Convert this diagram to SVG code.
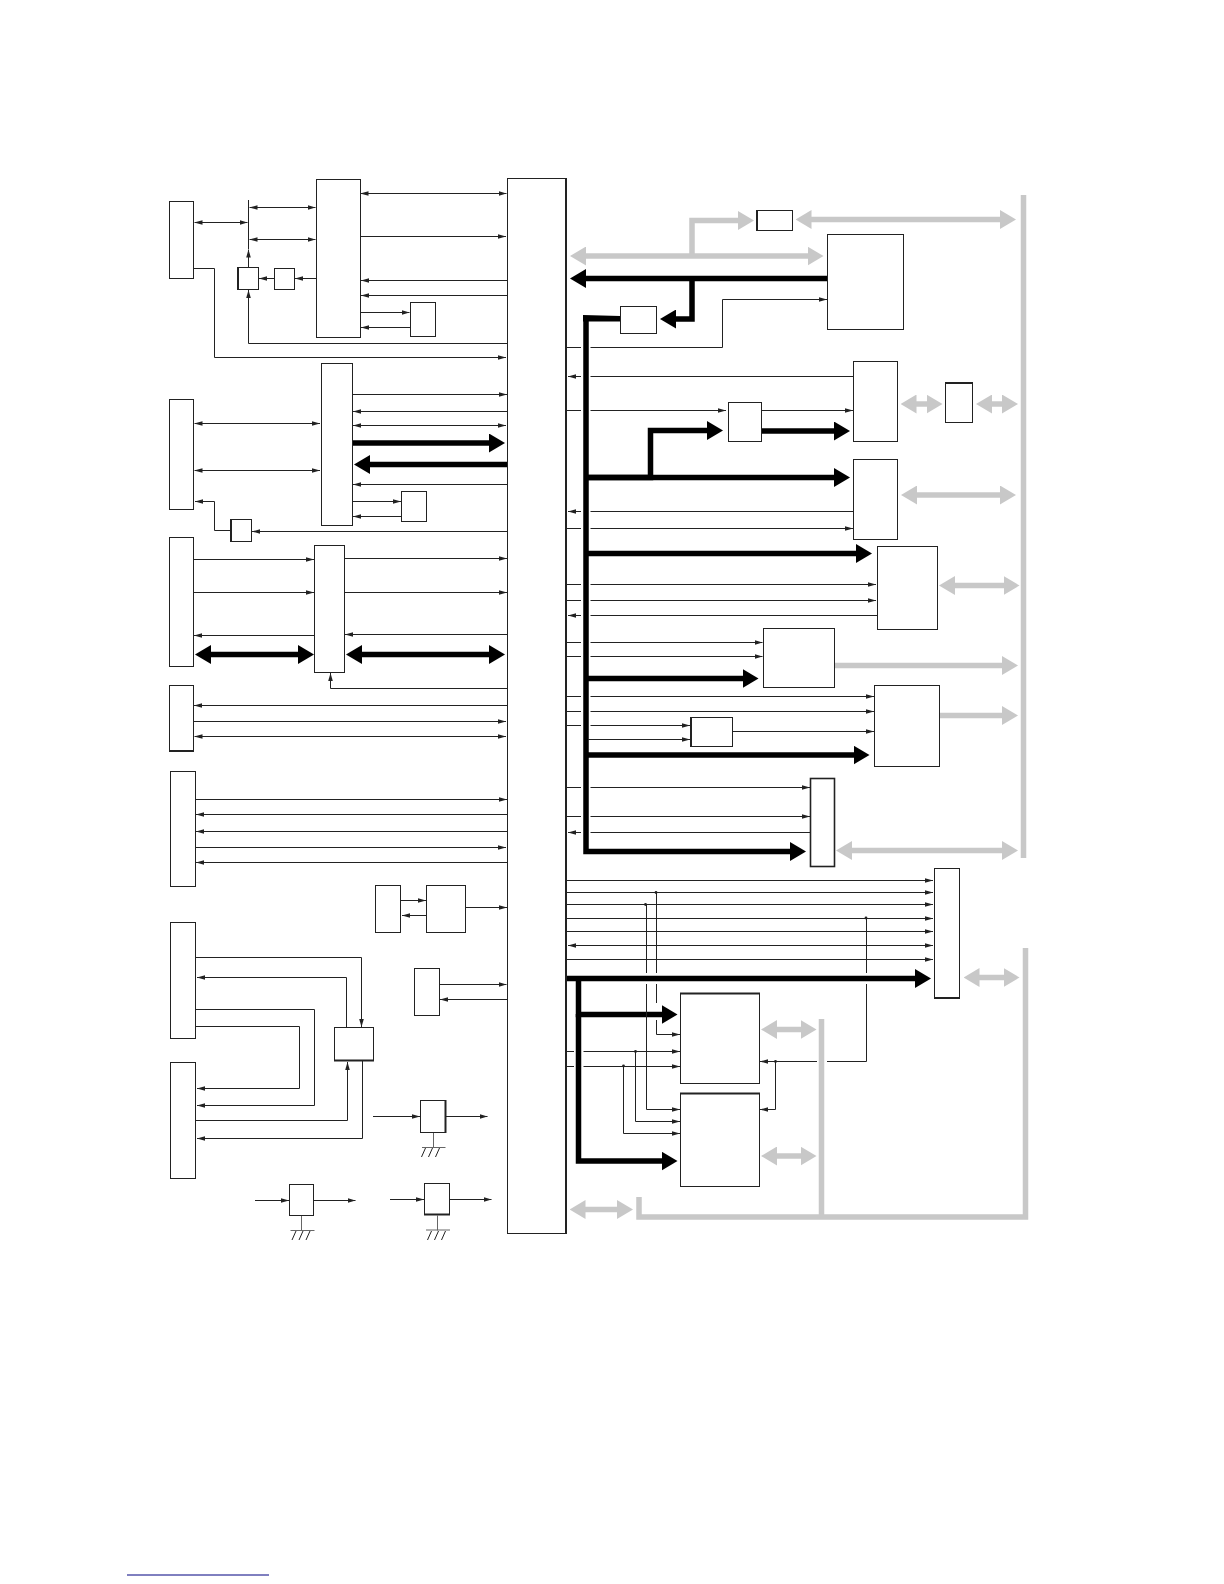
<svg xmlns="http://www.w3.org/2000/svg" width="1224" height="1584" viewBox="0 0 1224 1584">
<style>
.n{fill:#fff;stroke:#222;stroke-width:1}
.t{fill:none;stroke:#222;stroke-width:1}
.ta{fill:none;stroke:#222;stroke-width:1;marker-end:url(#a)}
.td{fill:none;stroke:#222;stroke-width:1;marker-start:url(#a);marker-end:url(#a)}
.b{fill:none;stroke:#000;stroke-width:5.5;marker-end:url(#k)}
.bd{fill:none;stroke:#000;stroke-width:5.5;marker-start:url(#k);marker-end:url(#k)}
.g{fill:none;stroke:#c8c8c8;stroke-width:5.5;marker-end:url(#h)}
.gd{fill:none;stroke:#c8c8c8;stroke-width:5.5;marker-start:url(#h);marker-end:url(#h)}
.gb{fill:none;stroke:#c8c8c8;stroke-width:5.5}
.e{fill:none;stroke:#222;stroke-width:2}
.gl{fill:none;stroke:#666;stroke-width:1}
.d{fill:#222}
</style>
<defs>
<marker id="a" markerUnits="userSpaceOnUse" markerWidth="8" markerHeight="6" refX="8" refY="3" orient="auto-start-reverse"><path d="M0,0.7L8,3L0,5.3Z" fill="#222"/></marker>
<marker id="k" markerUnits="userSpaceOnUse" markerWidth="16" markerHeight="19" refX="8" refY="9.5" orient="auto-start-reverse"><path d="M0,0L16,9.5L0,19Z" fill="#000"/></marker>
<marker id="h" markerUnits="userSpaceOnUse" markerWidth="16" markerHeight="19" refX="8" refY="9.5" orient="auto-start-reverse"><path d="M0,0L16,9.5L0,19Z" fill="#c8c8c8"/></marker>
</defs>
<g id="connectors">
<path class="td" d="M360.5,193.5H506.5"/>
<path class="td" d="M249.5,207.5H315.5"/>
<path class="td" d="M194.5,222.5H247.5"/>
<path class="td" d="M249.5,239.5H315.5"/>
<path class="ta" d="M360.5,236.5H506"/>
<path class="t" d="M248.5,200V249"/>
<path class="ta" d="M248.5,267V249.5"/>
<path class="ta" d="M507,280.5H361"/>
<path class="ta" d="M507,295.5H361"/>
<path class="ta" d="M360.5,312.5H409.5"/>
<path class="ta" d="M410.5,327.5H361"/>
<path class="ta" d="M316.5,278.5H295"/>
<path class="ta" d="M274.5,278.5H259"/>
<path class="ta" d="M507,343.5H248.5V290"/>
<path class="ta" d="M193.5,268.5H214.5V357.5H506"/>
<path class="ta" d="M352.5,394.5H507"/>
<path class="ta" d="M507,411.5H353"/>
<path class="td" d="M353,425.5H506"/>
<path class="td" d="M194.5,423.5H320"/>
<path class="td" d="M194.5,470.5H320"/>
<path class="ta" d="M507,484.5H353"/>
<path class="ta" d="M352.5,501.5H401"/>
<path class="ta" d="M401.5,516.5H353"/>
<path class="ta" d="M507,531.5H252"/>
<path class="ta" d="M230.5,530.5H214.5V501.5H195"/>
<path class="b" d="M352.5,443H497"/>
<path class="b" d="M507,464.5H362"/>
<path class="ta" d="M193.5,559.5H314"/>
<path class="ta" d="M193.5,592.5H314"/>
<path class="ta" d="M314.5,635.5H194"/>
<path class="bd" d="M203,654.5H306"/>
<path class="ta" d="M344.5,558.5H507"/>
<path class="ta" d="M344.5,592.5H507"/>
<path class="ta" d="M507,634.5H345"/>
<path class="bd" d="M354,654.5H497"/>
<path class="ta" d="M507,688.5H330.5V673"/>
<path class="ta" d="M507,705.5H194"/>
<path class="ta" d="M193.5,721.5H506"/>
<path class="td" d="M194.5,736.5H506"/>
<path class="ta" d="M195.5,799.5H507"/>
<path class="ta" d="M507,814.5H196"/>
<path class="ta" d="M507,831.5H196"/>
<path class="ta" d="M195.5,847.5H506"/>
<path class="ta" d="M507,862.5H196"/>
<path class="ta" d="M400.5,900.5H426"/>
<path class="ta" d="M426.5,915.5H402"/>
<path class="ta" d="M465.5,907.5H507"/>
<path class="ta" d="M439.5,984.5H506.5"/>
<path class="ta" d="M507,999.5H440"/>
<path class="ta" d="M195.5,957.5H361.5V1027"/>
<path class="ta" d="M346.5,1027V977.5H197"/>
<path class="ta" d="M195.5,1009.5H314.5V1105.5H197"/>
<path class="ta" d="M195.5,1026.5H299.5V1088.5H197"/>
<path class="ta" d="M195.5,1120.5H347.5V1062"/>
<path class="ta" d="M362.5,1061V1138.5H197"/>
<path class="ta" d="M373,1116.5H420"/>
<path class="ta" d="M446,1116.5H487.5"/>
<path class="ta" d="M255,1200.5H289"/>
<path class="ta" d="M313.5,1200.5H355.5"/>
<path class="ta" d="M390,1199.5H424"/>
<path class="ta" d="M449.5,1199.5H491.5"/>
<path class="gl" d="M433.5,1132.5V1147.5M301.5,1215.5V1230.5M437.5,1215.5V1230.5"/>
<path class="gl" d="M422,1147.5H445.5M290.5,1230.5H314.5M426,1230H450"/>
<path class="t" d="M425.5,1148L421.5,1157M432.5,1148L428.5,1157M439.5,1148L435.5,1157M296,1231L292,1240M303,1231L299,1240M310,1231L306,1240M431.5,1231L427.5,1240M438.5,1231L434.5,1240M445.5,1231L441.5,1240"/>
<path class="gd" d="M803.5,219.5H1008"/>
<path class="gd" d="M578,256H815.5"/>
<path class="g" d="M692,256V220.5H746"/>
<path class="gb" d="M1023.5,195V858"/>
<path class="b" d="M827.5,278.5H578"/>
<path class="b" d="M692,278.5V319H668"/>
<path class="b" d="M586,318V851.5H798"/>
<path d="M583,315L620.5,316V321.5L583,321.5Z" fill="#000"/>
<path class="t" d="M567,347.5H581M590.5,347.5H722.5V299.5"/>
<path class="ta" d="M722.5,299.5H827"/>
<path class="t" d="M853.5,376.5H590.5"/>
<path class="ta" d="M581,376.5H568"/>
<path class="t" d="M567,410.5H581"/>
<path class="ta" d="M590.5,410.5H726"/>
<path class="ta" d="M761.5,410.5H853"/>
<path class="b" d="M761.5,431H842"/>
<path class="b" d="M586,477.5H650.5V430.5H715"/>
<path class="b" d="M586,477.5H842"/>
<path class="gd" d="M908.5,404H934.5"/>
<path class="gd" d="M984,404H1010"/>
<path class="gd" d="M909,495H1008"/>
<path class="t" d="M853.5,511.5H590.5"/>
<path class="ta" d="M581,511.5H568"/>
<path class="t" d="M567,528.5H581"/>
<path class="ta" d="M590.5,528.5H853"/>
<path class="b" d="M586,553.5H864"/>
<path class="t" d="M567,584.5H581M567,600.5H581M567,642.5H581M567,656.5H581M567,696.5H581M567,711.5H581M567,725.5H581M567,787.5H581M567,816.5H581"/>
<path class="ta" d="M590.5,584.5H876"/>
<path class="ta" d="M590.5,600.5H876"/>
<path class="t" d="M877,615.5H590.5"/>
<path class="ta" d="M581,615.5H568"/>
<path class="gd" d="M947,585.5H1011.5"/>
<path class="ta" d="M590.5,642.5H762.5"/>
<path class="ta" d="M590.5,656.5H762.5"/>
<path class="b" d="M586,678.5H750.5"/>
<path class="g" d="M834.5,665.5H1010"/>
<path class="ta" d="M590.5,696.5H874"/>
<path class="ta" d="M590.5,711.5H874"/>
<path class="ta" d="M590.5,725.5H690"/>
<path class="ta" d="M588,739.5H690"/>
<path class="ta" d="M732.5,731.5H874"/>
<path class="b" d="M586,755H861.5"/>
<path class="g" d="M939.5,715.5H1010"/>
<path class="ta" d="M590.5,787.5H810"/>
<path class="ta" d="M590.5,816.5H810"/>
<path class="t" d="M810,832.5H590.5"/>
<path class="ta" d="M581,832.5H568"/>
<path class="gd" d="M844,850.5H1010"/>
<path class="ta" d="M566,880.5H933"/>
<path class="ta" d="M566,892.5H933"/>
<path class="ta" d="M566,904.5H933"/>
<path class="ta" d="M566,918.5H933"/>
<path class="ta" d="M566,931.5H933"/>
<path class="td" d="M568,945.5H933"/>
<path class="ta" d="M566,959.5H933"/>
<path class="b" d="M566,978.5H923"/>
<path class="b" d="M578.5,976V1014.5H669.5"/>
<path class="b" d="M578.5,1014V1161H669.5"/>
<path class="t" d="M656.5,892.5V973M656.5,984V1003M656.5,1020V1034.5"/>
<path class="ta" d="M656.5,1034.5H680"/>
<path class="t" d="M646.5,904.5V973M646.5,984V1109.5"/>
<path class="ta" d="M646.5,1109.5H680"/>
<path class="t" d="M566,1051.5H574M566,1066.5H574"/>
<path class="ta" d="M583.5,1051.5H680"/>
<path class="ta" d="M583.5,1066.5H680"/>
<path class="ta" d="M635.5,1051.5V1121.5H680"/>
<path class="ta" d="M623.5,1066.5V1133.5H680"/>
<path class="t" d="M866.5,918.5V973M866.5,984V1061.5H827M817,1061.5H775"/>
<path class="ta" d="M775.5,1061.5H760"/>
<path class="ta" d="M775.5,1061.5V1109.5H760"/>
<circle class="d" cx="656" cy="892.5" r="1.4"/>
<circle class="d" cx="645.5" cy="904.5" r="1.4"/>
<circle class="d" cx="866" cy="918" r="1.4"/>
<circle class="d" cx="635.5" cy="1051.5" r="1.4"/>
<circle class="d" cx="623.5" cy="1066" r="1.4"/>
<circle class="d" cx="775.5" cy="1061.5" r="1.4"/>
<path class="gd" d="M769,1029.5H808.5"/>
<path class="gd" d="M769,1156H808.5"/>
<path class="gd" d="M577.5,1209.5H625"/>
<path class="gd" d="M971.5,977.5H1011.5"/>
<path class="gb" d="M821.5,1019V1217"/>
<path class="gb" d="M639,1197V1217H1025.5V948"/>
</g>
<g id="n-main"><rect class="n" x="507.5" y="178.5" width="59" height="1055"/><path class="e" d="M566,178V1234"/></g>
<g id="n1"><rect class="n" x="169.5" y="201.5" width="24" height="77"/></g>
<g id="n2"><rect class="n" x="316.5" y="179.5" width="44" height="158"/></g>
<g id="n3"><rect class="n" x="237.5" y="267.5" width="21" height="22"/><path class="e" d="M238,267V290"/></g>
<g id="n4"><rect class="n" x="274.5" y="268.5" width="20" height="21"/></g>
<g id="n5"><rect class="n" x="410.5" y="302.5" width="25" height="34"/></g>
<g id="n6"><rect class="n" x="169.5" y="399.5" width="24" height="110"/></g>
<g id="n7"><rect class="n" x="321.5" y="363.5" width="31" height="162"/></g>
<g id="n8"><rect class="n" x="401.5" y="491.5" width="25" height="30"/></g>
<g id="n9"><rect class="n" x="230.5" y="519.5" width="21" height="22"/><path class="e" d="M231,519V542"/></g>
<g id="n10"><rect class="n" x="169.5" y="537.5" width="24" height="129"/></g>
<g id="n11"><rect class="n" x="314.5" y="545.5" width="30" height="127"/></g>
<g id="n12"><rect class="n" x="169.5" y="685.5" width="24" height="65"/><path class="e" d="M169,751H194"/></g>
<g id="n13"><rect class="n" x="170.5" y="771.5" width="25" height="115"/></g>
<g id="n14"><rect class="n" x="375.5" y="885.5" width="25" height="47"/></g>
<g id="n15"><rect class="n" x="426.5" y="885.5" width="39" height="47"/></g>
<g id="n16"><rect class="n" x="414.5" y="968.5" width="25" height="47"/></g>
<g id="n17"><rect class="n" x="170.5" y="922.5" width="25" height="116"/></g>
<g id="n18"><rect class="n" x="170.5" y="1062.5" width="25" height="116"/></g>
<g id="n19"><rect class="n" x="334.5" y="1027.5" width="39" height="33"/><path class="e" d="M334,1060.5H374"/></g>
<g id="n20"><rect class="n" x="420.5" y="1100.5" width="25" height="32"/><path class="e" d="M445.5,1100V1133"/></g>
<g id="n21"><rect class="n" x="289.5" y="1184.5" width="24" height="31"/></g>
<g id="n22"><rect class="n" x="424.5" y="1183.5" width="25" height="31"/><path class="e" d="M424,1214.5H450"/></g>
<g id="n23"><rect class="n" x="757.5" y="210.5" width="35" height="20"/><path class="e" d="M757,210V231"/></g>
<g id="n24"><rect class="n" x="827.5" y="234.5" width="76" height="95"/></g>
<g id="n25"><rect class="n" x="620.5" y="306.5" width="36" height="27"/></g>
<g id="n26"><rect class="n" x="853.5" y="361.5" width="44" height="80"/></g>
<g id="n27"><rect class="n" x="728.5" y="402.5" width="33" height="39"/></g>
<g id="n28"><rect class="n" x="945.5" y="382.5" width="27" height="40"/><path class="e" d="M945,383H973"/></g>
<g id="n29"><rect class="n" x="853.5" y="459.5" width="44" height="80"/></g>
<g id="n30"><rect class="n" x="877.5" y="546.5" width="60" height="83"/></g>
<g id="n31"><rect class="n" x="763.5" y="628.5" width="71" height="59"/></g>
<g id="n32"><rect class="n" x="874.5" y="685.5" width="65" height="81"/></g>
<g id="n33"><rect class="n" x="690.5" y="717.5" width="42" height="29"/><path class="e" d="M691,717V747"/></g>
<g id="n34"><rect class="n" x="810.5" y="778.5" width="24" height="88" style="stroke-width:1.6"/></g>
<g id="n35"><rect class="n" x="934.5" y="868.5" width="25" height="129"/><path class="e" d="M934,998H960"/></g>
<g id="n36"><rect class="n" x="680.5" y="993.5" width="79" height="90"/><path class="e" d="M680,993.5H760"/></g>
<g id="n37"><rect class="n" x="680.5" y="1093.5" width="79" height="93"/><path class="e" d="M680,1093.5H760"/></g>
<path d="M127,1575H269" fill="none" stroke="#000080" stroke-width="1"/>
</svg>
